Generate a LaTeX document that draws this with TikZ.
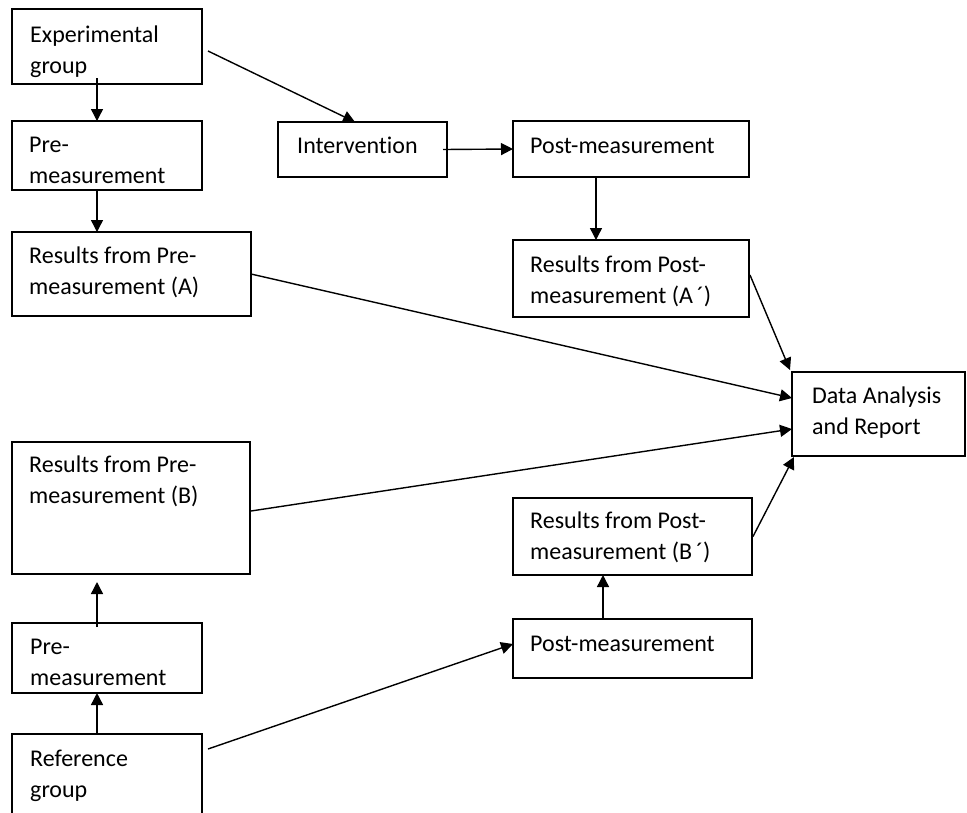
\documentclass[tikz,border=0pt]{standalone}
\usepackage{fontspec}
\setmainfont{Carlito}[Ligatures=NoCommon]
\usetikzlibrary{arrows.meta,calc}
\newcommand\fs{\rule{0pt}{21pt}}
\begin{document}
\begin{tikzpicture}[x=1pt,y=-1pt,
  box/.style={draw=black, line width=1.7pt, inner sep=0pt, outer sep=0pt, anchor=north west},
  lbl/.style={anchor=north west, inner sep=0pt, align=left, font=\fontsize{24}{31}\selectfont, text=black},
  arr/.style={line width=1.4pt, -{Triangle[length=12pt,width=12pt]}}]
\clip (0,0) rectangle (967,812);
\fill[white] (0,0) rectangle (967,812);
% boxes
\node[box, minimum width=190pt, minimum height=75pt] (exp) at (12,9) {};
\node[box, minimum width=190pt, minimum height=69pt] (pre1) at (12,121) {};
\node[box, minimum width=239pt, minimum height=84pt] (resA) at (12,232) {};
\node[box, minimum width=169pt, minimum height=55pt] (int) at (278,122) {};
\node[box, minimum width=236pt, minimum height=56pt] (post1) at (513,121) {};
\node[box, minimum width=236pt, minimum height=77pt] (resAp) at (513,240) {};
\node[box, minimum width=173pt, minimum height=84pt] (data) at (792,372) {};
\node[box, minimum width=238pt, minimum height=132pt] (resB) at (12,442) {};
\node[box, minimum width=190pt, minimum height=70pt] (pre2) at (12,623) {};
\node[box, minimum width=190pt, minimum height=90pt] (ref) at (12,734) {};
\node[box, minimum width=239pt, minimum height=77pt] (resBp) at (513,498) {};
\node[box, minimum width=239pt, minimum height=59pt] (post2) at (513,619) {};
% labels
\node[lbl] (expT) at ([xshift=18pt,yshift=-12pt]exp.north west) {\fs Experimental\\group};
\node[lbl] (pre1T) at ([xshift=17pt,yshift=-10pt]pre1.north west) {\fs Pre-\\measurement};
\node[lbl] (resAT) at ([xshift=17pt,yshift=-10pt]resA.north west) {\fs Results from Pre-\\measurement (A)};
\node[lbl] (intT) at ([xshift=19pt,yshift=-10pt]int.north west) {\fs Intervention};
\node[lbl] (post1T) at ([xshift=17pt,yshift=-11pt]post1.north west) {\fs Post-measurement};
\node[lbl] (resApT) at ([xshift=17pt,yshift=-11pt]resAp.north west) {\fs Results from Post-\\measurement (A\,´)};
\node[lbl] (dataT) at ([xshift=20pt,yshift=-10pt]data.north west) {\fs Data Analysis\\and Report};
\node[lbl] (resBT) at ([xshift=17pt,yshift=-9pt]resB.north west) {\fs Results from Pre-\\measurement (B)};
\node[lbl] (pre2T) at ([xshift=18pt,yshift=-10pt]pre2.north west) {\fs Pre-\\measurement};
\node[lbl] (refT) at ([xshift=18pt,yshift=-11pt]ref.north west) {\fs Reference\\group};
\node[lbl] (resBpT) at ([xshift=17pt,yshift=-9pt]resBp.north west) {\fs Results from Post-\\measurement (B\,´)};
\node[lbl] (post2T) at ([xshift=17pt,yshift=-11pt]post2.north west) {\fs Post-measurement};
% connectors
\draw[arr] ([xshift=85pt,yshift=6pt]exp.south west) -- ([xshift=85pt]pre1.north west);
\draw[arr] ([xshift=6pt,yshift=-4.5pt]exp.east) -- ([xshift=77pt]int.north west);
\draw[arr] ([xshift=85pt]pre1.south west) -- ([xshift=85pt]resA.north west);
\draw[arr] ([xshift=-4pt]int.east) -- (post1.west);
\draw[arr] ([xshift=83pt]post1.south west) -- ([xshift=83pt]resAp.north west);
\draw[arr] ([xshift=1pt,yshift=3.5pt]resAp.east) -- ([xshift=-2pt,yshift=2pt]data.north west);
\draw[arr] (resA.east) -- ([yshift=16pt]data.west);
\draw[arr] ([xshift=1pt,yshift=-3pt]resB.east) -- ([yshift=-15pt]data.west);
\draw[arr] ([xshift=1pt]resBp.east) -- ([xshift=2pt,yshift=-1pt]data.south west);
\draw[arr] ([xshift=85pt,yshift=-4pt]pre2.north west) -- ([xshift=85pt,yshift=-8pt]resB.south west);
\draw[arr] ([xshift=85pt]ref.north west) -- ([xshift=85pt]pre2.south west);
\draw[arr] ([xshift=6pt,yshift=-15pt]ref.north east) -- ([yshift=4.5pt]post2.west);
\draw[arr] ([xshift=90pt]post2.north west) -- ([xshift=90pt]resBp.south west);
\end{tikzpicture}
\end{document}
